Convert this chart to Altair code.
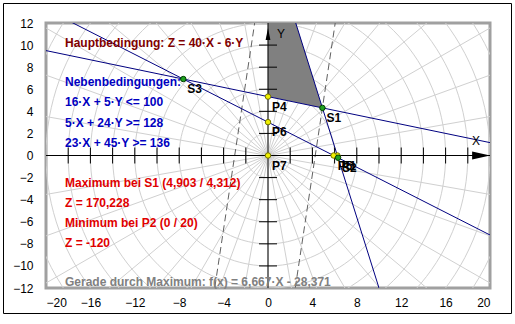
import altair as alt
import numpy as np
import pandas as pd

# ---------------- data ----------------
# constraints  a*X + b*Y (op) c
con_a = [16, 5, 23]
con_b = [5, 24, 45]
con_c = [100, 128, 136]
# objective Z = 40*X - 6*Y, level lines through max and min
obj_a, obj_b = 40, -6
z_levels = [170.228, -120]

# marked points
pt_names = ["S1", "S2", "S3", "P1", "P5", "P4", "P6", "P7"]
pt_x = [4.903, 6.314, -7.630, 6.25, 5.913, 0, 0, 0]
pt_y = [4.312, -0.202, 6.924, 0, 0, 5.333, 3.022, 0]
pt_kind = ["S", "S", "S", "P", "P", "P", "P", "P"]

# feasible region (visible part)
reg_x = [0, 2.5, 4.903]
reg_lo = [5.333, 4.8125, 4.312]
reg_hi = [12, 12, 4.312]

x_labels = [-20, -16, -12, -8, -4, 0, 4, 8, 12, 16, 20]
y_labels = [-12, -10, -8, -6, -4, -2, 0, 2, 4, 6, 8, 10, 12]
x_axis_ticks = [-18, -16, -14, -12, -10, -8, -6, -4, -2, 2, 4, 6, 8, 10, 12, 14, 16, 18]
y_axis_ticks = [-10, -8, -6, -4, -2, 2, 4, 6, 8, 10]

main_texts = [
    "Hauptbedingung: Z = 40·X - 6·Y",
    "Nebenbedingungen:",
    "16·X + 5·Y <= 100",
    "5·X + 24·Y >= 128",
    "23·X + 45·Y >= 136",
    "Maximum bei S1 (4,903 / 4,312)",
    "Z = 170,228",
    "Minimum bei P2 (0 / 20)",
    "Z = -120",
    "Gerade durch Maximum: f(x) = 6,667·X - 28,371",
]
main_colors = ["#800000", "#0000c0", "#0000c0", "#0000c0", "#0000c0",
               "#e00000", "#e00000", "#e00000", "#e00000", "#808080"]
main_ypix = [20, 59, 79, 100, 120, 160, 180, 200, 220, 259]

# ---------------- scales / axes ----------------
FONT = "Liberation Sans"
xs = alt.Scale(domain=[-20, 20], nice=False, zero=False)
ys = alt.Scale(domain=[-12, 12], nice=False, zero=False)
xax = alt.Axis(values=x_labels, title=None, ticks=False, domain=False, grid=False,
               labelFontSize=12, labelFont=FONT, labelColor="black", labelPadding=9)
yax = alt.Axis(values=y_labels, title=None, ticks=False, domain=False, grid=False,
               labelFontSize=12, labelFont=FONT, labelColor="black", labelPadding=13)


def X(f="x"):
    return alt.X(f"{f}:Q", scale=xs, axis=xax)


def Y(f="y"):
    return alt.Y(f"{f}:Q", scale=ys, axis=yax)


layers = []

# polar grid: circles
rows = []
th = np.linspace(0, 2 * np.pi, 145)
for k, r in enumerate(range(2, 26, 2)):
    for i, t in enumerate(th):
        rows.append({"x": r * np.cos(t), "y": r * np.sin(t), "id": k, "i": i})
circ = pd.DataFrame(rows)
layers.append(alt.Chart(circ).mark_line(clip=True, color="#d0d0d0", strokeWidth=1).encode(
    x=X(), y=Y(), detail="id:N", order="i:Q"))

# polar grid: spokes
rows = []
for k, deg in enumerate(range(0, 360, 10)):
    t = np.deg2rad(deg)
    rows.append({"x": 0.0, "y": 0.0, "id": k})
    rows.append({"x": 30 * np.cos(t), "y": 30 * np.sin(t), "id": k})
spk = pd.DataFrame(rows)
layers.append(alt.Chart(spk).mark_line(clip=True, color="#d0d0d0", strokeWidth=1).encode(
    x=X(), y=Y(), detail="id:N"))

# feasible region
reg = pd.DataFrame({"x": reg_x, "lo": reg_lo, "hi": reg_hi})
layers.append(alt.Chart(reg).mark_area(color="#808080", opacity=1).encode(
    x=X(), y=Y("lo"), y2="hi:Q"))

# objective level lines (dashed)
rows = []
for k, z in enumerate(z_levels):
    for xv in (-20, 20):
        rows.append({"x": xv, "y": (z - obj_a * xv) / obj_b, "id": k})
obj = pd.DataFrame(rows)
layers.append(alt.Chart(obj).mark_line(clip=True, color="#606060", strokeWidth=1,
                                       strokeDash=[7, 4]).encode(
    x=X(), y=Y(), detail="id:N"))

# constraint lines
rows = []
for k, (a, b, c) in enumerate(zip(con_a, con_b, con_c)):
    for xv in (-20, 20):
        rows.append({"x": xv, "y": (c - a * xv) / b, "id": k})
cl = pd.DataFrame(rows)
layers.append(alt.Chart(cl).mark_line(clip=True, color="#000080", strokeWidth=1).encode(
    x=X(), y=Y(), detail="id:N"))

# coordinate axes
axl = pd.DataFrame({"x": [-20, 0], "x2": [20, 0], "y": [0, -12], "y2": [0, 12]})
layers.append(alt.Chart(axl).mark_rule(color="black", strokeWidth=1).encode(
    x=X(), x2="x2:Q", y=Y(), y2="y2:Q"))
layers.append(alt.Chart(pd.DataFrame({"x": x_axis_ticks, "y": [0] * len(x_axis_ticks)}))
              .mark_tick(orient="vertical", size=16, thickness=1, color="black", opacity=1)
              .encode(x=X(), y=Y()))
layers.append(alt.Chart(pd.DataFrame({"y": y_axis_ticks, "x": [0] * len(y_axis_ticks)}))
              .mark_tick(orient="horizontal", size=18, thickness=1, color="black", opacity=1)
              .encode(x=X(), y=Y()))
# arrow heads
layers.append(alt.Chart(pd.DataFrame({"x": [19.2], "y": [0]}))
              .mark_point(shape="M-1,-0.45L1,0L-1,0.45Z", filled=True, size=324,
                          color="black", opacity=1)
              .encode(x=X(), y=Y()))
layers.append(alt.Chart(pd.DataFrame({"x": [0], "y": [11.0]}))
              .mark_point(shape="M-0.4,1L0,-1L0.4,1Z", filled=True, size=144,
                          color="black", opacity=1)
              .encode(x=X(), y=Y()))
layers.append(alt.Chart(pd.DataFrame({"t": ["X"]})).mark_text(
    font=FONT, fontSize=12, color="black", align="center", baseline="middle").encode(
    x=alt.value(430), y=alt.value(118), text="t:N"))
layers.append(alt.Chart(pd.DataFrame({"t": ["Y"]})).mark_text(
    font=FONT, fontSize=12, color="black", align="center", baseline="middle").encode(
    x=alt.value(235), y=alt.value(11), text="t:N"))

# points
pts = pd.DataFrame({"x": pt_x, "y": pt_y, "name": pt_names, "kind": pt_kind})
layers.append(alt.Chart(pts).transform_filter(alt.datum.kind == "P").mark_point(
    shape="circle", filled=True, size=30, fill="#f0f000", stroke="#707000",
    strokeWidth=1, opacity=1).encode(x=X(), y=Y()))
layers.append(alt.Chart(pts).transform_filter(alt.datum.kind == "S").mark_point(
    shape="circle", filled=True, size=30, fill="#20a020", stroke="#004000",
    strokeWidth=1, opacity=1).encode(x=X(), y=Y()))
layers.append(alt.Chart(pts).mark_text(
    font=FONT, fontSize=12, fontWeight="bold", color="black", align="left",
    baseline="top", dx=4, dy=5).encode(x=X(), y=Y(), text="name:N"))

# description texts
for t, c, yp in zip(main_texts, main_colors, main_ypix):
    layers.append(alt.Chart(pd.DataFrame({"t": [t]})).mark_text(
        font=FONT, fontSize=12, fontWeight="bold", color=c, align="left",
        baseline="middle").encode(x=alt.value(19), y=alt.value(yp), text="t:N"))

# outer border
layers.append(alt.Chart(pd.DataFrame({"a": [0]})).mark_rect(
    fillOpacity=0, stroke="black", strokeWidth=1, clip=False).encode(
    x=alt.value(-42.5), x2=alt.value(465.5), y=alt.value(-19.5), y2=alt.value(290.5)))

chart = alt.layer(*layers).properties(
    width=444, height=265,
    autosize=alt.AutoSizeParams(type="none"),
    padding={"left": 46, "top": 23, "right": 25, "bottom": 36},
    background="white",
).configure_view(stroke="#a0a0a0", strokeWidth=3)

chart.save("out.html", embed_options={"renderer": "svg", "actions": False})
